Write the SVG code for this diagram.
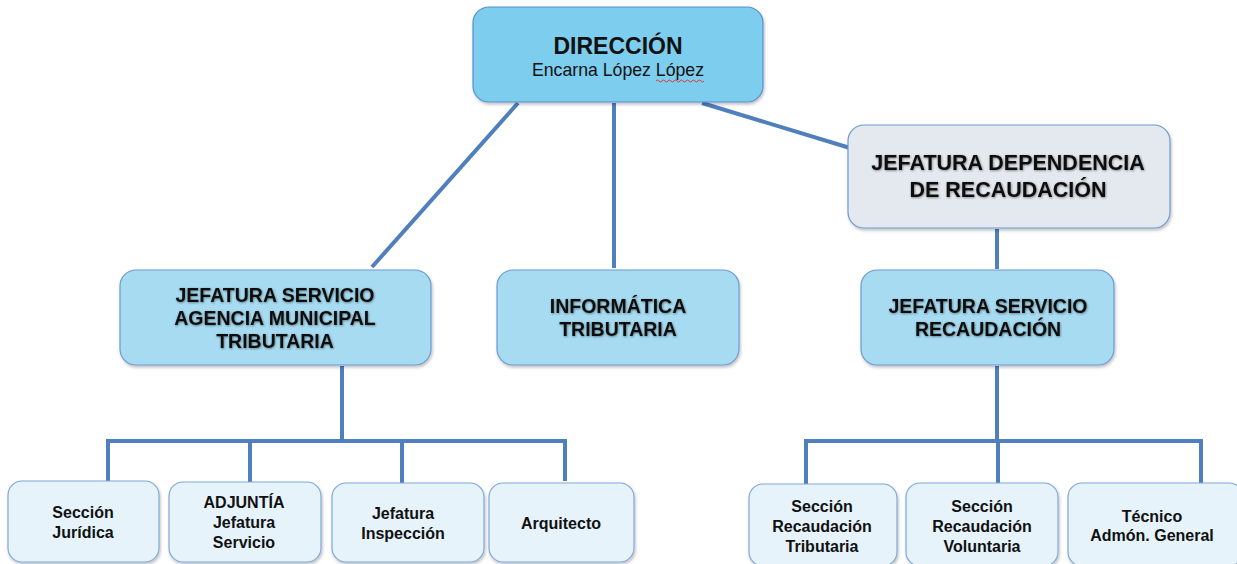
<svg xmlns="http://www.w3.org/2000/svg" width="1237" height="564" viewBox="0 0 1237 564">
<defs>
<filter id="sh" x="-10%" y="-10%" width="125%" height="130%">
<feDropShadow dx="1" dy="2" stdDeviation="1.5" flood-color="#000" flood-opacity="0.25"/>
</filter>
<filter id="ts" x="-5%" y="-20%" width="110%" height="150%">
<feDropShadow dx="0.6" dy="0.8" stdDeviation="0.8" flood-color="#000" flood-opacity="0.45"/>
</filter>
</defs>
<style>
.top{fill:#7dcdee;stroke:#5a8fcf;stroke-width:1.2}
.grey{fill:#e4e8ef;stroke:#6d9ad2;stroke-width:1.2}
.mid{fill:#a6dbf1;stroke:#6d9ad2;stroke-width:1.2}
.low{fill:#e6f3fb;stroke:#7fa9d9;stroke-width:1.2}
.t{font-family:"Liberation Sans",Arial,sans-serif;text-anchor:middle;fill:#111}
.b{font-weight:bold}
.h{font-size:19.5px}
.s{font-size:16px}
.c{fill:none;stroke:#4f7fbd;stroke-width:4;stroke-linecap:butt}
</style>
<g id="connectors">
<line class="c" x1="518" y1="103" x2="372" y2="267"/>
<line class="c" x1="614" y1="103" x2="614" y2="268"/>
<line class="c" x1="702" y1="103" x2="850" y2="148"/>
<line class="c" x1="997" y1="229" x2="997" y2="269"/>
<line class="c" x1="342" y1="366" x2="342" y2="441"/>
<polyline class="c" points="108,481 108,441 565,441 565,481"/>
<line class="c" x1="250" y1="441" x2="250" y2="482"/>
<line class="c" x1="402" y1="441" x2="402" y2="483"/>
<line class="c" x1="997" y1="366" x2="997" y2="441"/>
<polyline class="c" points="806,484 806,441 1201,441 1201,483"/>
<line class="c" x1="998" y1="441" x2="998" y2="483"/>
</g>
<g id="direccion">
<rect class="top" x="473" y="7" width="290" height="95" rx="16" filter="url(#sh)"/>
<text class="t b" x="618" y="54" font-size="23">DIRECCIÓN</text>
<text class="t" x="618" y="76" font-size="17.7">Encarna López López</text>
<path d="M656 81 q1.5 -2 3 0 t3 0 t3 0 t3 0 t3 0 t3 0 t3 0 t3 0 t3 0 t3 0 t3 0 t3 0 t3 0 t3 0 t3 0 t3 0" fill="none" stroke="#e03030" stroke-width="0.9"/>
</g>
<g id="jefatura-dependencia">
<rect class="grey" x="848" y="125" width="322" height="103" rx="16" filter="url(#sh)"/>
<text class="t b" x="1008" y="170" font-size="21.5" filter="url(#ts)">JEFATURA DEPENDENCIA</text>
<text class="t b" x="1008" y="197" font-size="21.5" filter="url(#ts)">DE RECAUDACIÓN</text>
</g>
<g id="jefatura-servicio-amt">
<rect class="mid" x="120" y="270" width="311" height="95" rx="16" filter="url(#sh)"/>
<text class="t b h" x="275" y="302" filter="url(#ts)">JEFATURA SERVICIO</text>
<text class="t b h" x="275" y="325" filter="url(#ts)">AGENCIA MUNICIPAL</text>
<text class="t b h" x="275" y="348" filter="url(#ts)">TRIBUTARIA</text>
</g>
<g id="informatica">
<rect class="mid" x="497" y="270" width="242" height="95" rx="16" filter="url(#sh)"/>
<text class="t b h" x="618" y="313" filter="url(#ts)">INFORMÁTICA</text>
<text class="t b h" x="618" y="336" filter="url(#ts)">TRIBUTARIA</text>
</g>
<g id="jefatura-servicio-recaudacion">
<rect class="mid" x="861" y="270" width="253" height="95" rx="16" filter="url(#sh)"/>
<text class="t b h" x="988" y="313" filter="url(#ts)">JEFATURA SERVICIO</text>
<text class="t b h" x="988" y="336" filter="url(#ts)">RECAUDACIÓN</text>
</g>
<g id="seccion-juridica">
<rect class="low" x="8" y="481" width="151" height="81" rx="14" filter="url(#sh)"/>
<text class="t b s" x="83" y="518">Sección</text>
<text class="t b s" x="83" y="538">Jurídica</text>
</g>
<g id="adjuntia">
<rect class="low" x="169" y="482" width="152" height="80" rx="14" filter="url(#sh)"/>
<text class="t b s" x="244" y="508">ADJUNTÍA</text>
<text class="t b s" x="244" y="528">Jefatura</text>
<text class="t b s" x="244" y="548">Servicio</text>
</g>
<g id="jefatura-inspeccion">
<rect class="low" x="332" y="483" width="152" height="79" rx="14" filter="url(#sh)"/>
<text class="t b s" x="403" y="519">Jefatura</text>
<text class="t b s" x="403" y="539">Inspección</text>
</g>
<g id="arquitecto">
<rect class="low" x="489" y="483" width="145" height="79" rx="14" filter="url(#sh)"/>
<text class="t b s" x="561" y="529">Arquitecto</text>
</g>
<g id="seccion-recaudacion-tributaria">
<rect class="low" x="749" y="484" width="148" height="82" rx="14" filter="url(#sh)"/>
<text class="t b s" x="822" y="512">Sección</text>
<text class="t b s" x="822" y="532">Recaudación</text>
<text class="t b s" x="822" y="552">Tributaria</text>
</g>
<g id="seccion-recaudacion-voluntaria">
<rect class="low" x="906" y="483" width="152" height="83" rx="14" filter="url(#sh)"/>
<text class="t b s" x="982" y="512">Sección</text>
<text class="t b s" x="982" y="532">Recaudación</text>
<text class="t b s" x="982" y="552">Voluntaria</text>
</g>
<g id="tecnico">
<rect class="low" x="1068" y="483" width="175" height="83" rx="14" filter="url(#sh)"/>
<text class="t b s" x="1152" y="522">Técnico</text>
<text class="t b s" x="1152" y="541">Admón. General</text>
</g>
</svg>
